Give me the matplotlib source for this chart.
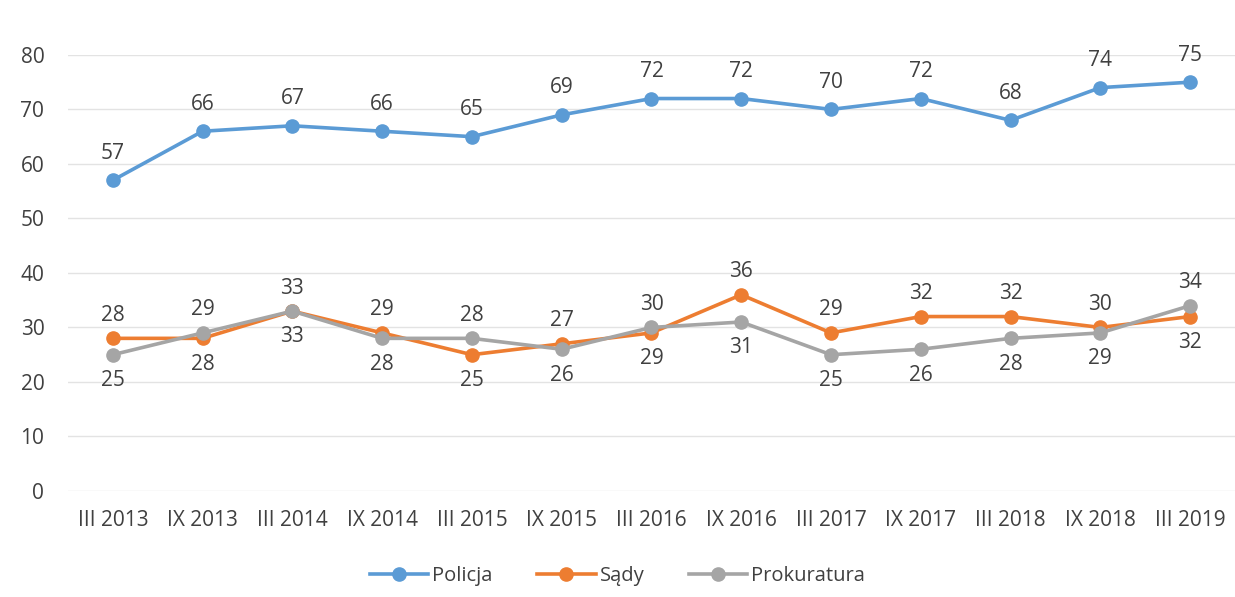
import matplotlib.pyplot as plt

plt.rcParams['font.family'] = ['Open Sans', 'DejaVu Sans']

categories = ['III 2013', 'IX 2013', 'III 2014', 'IX 2014', 'III 2015', 'IX 2015',
              'III 2016', 'IX 2016', 'III 2017', 'IX 2017', 'III 2018', 'IX 2018', 'III 2019']
policja = [57, 66, 67, 66, 65, 69, 72, 72, 70, 72, 68, 74, 75]
sady = [28, 28, 33, 29, 25, 27, 29, 36, 29, 32, 32, 30, 32]
prokuratura = [25, 29, 33, 28, 28, 26, 30, 31, 25, 26, 28, 29, 34]

blue = '#5B9BD5'
orange = '#ED7D31'
gray = '#A5A5A5'
txt = '#404040'

fig = plt.figure(figsize=(12.35, 5.97), dpi=100)
ax = fig.add_axes([0.055, 0.1776, 0.945, 0.7304])

x = list(range(len(categories)))
ax.plot(x, policja, color=blue, lw=2.6, marker='o', ms=9.5, label='Policja', zorder=3)
ax.plot(x, sady, color=orange, lw=2.6, marker='o', ms=9.5, label='Sądy', zorder=3)
ax.plot(x, prokuratura, color=gray, lw=2.6, marker='o', ms=9.5, label='Prokuratura', zorder=4)

fs = 15
for i, v in enumerate(policja):
    ax.annotate(str(v), (i, v), xytext=(0, 12), textcoords='offset points',
                ha='center', va='bottom', fontsize=fs, color=txt)

for i in x:
    s, p = sady[i], prokuratura[i]
    s_up = s >= p
    ax.annotate(str(s), (i, s), xytext=(0, 9 if s_up else -11), textcoords='offset points',
                ha='center', va='bottom' if s_up else 'top', fontsize=fs, color=txt)
    ax.annotate(str(p), (i, p), xytext=(0, -11 if s_up else 9), textcoords='offset points',
                ha='center', va='top' if s_up else 'bottom', fontsize=fs, color=txt)

ax.set_xlim(-0.5, len(categories) - 0.5)
ax.set_ylim(0, 80)
ax.set_yticks(range(0, 81, 10))
ax.set_xticks(x)
ax.set_xticklabels(categories)
ax.tick_params(axis='both', length=0, labelsize=15, labelcolor=txt)
ax.tick_params(axis='x', pad=14)
ax.tick_params(axis='y', pad=17)
ax.grid(axis='y', color='#E3E3E3', lw=1)
ax.set_axisbelow(True)
for sp in ax.spines.values():
    sp.set_visible(False)

fig.legend(loc='lower center', bbox_to_anchor=(0.5, -0.012), ncol=3, frameon=False,
           fontsize=14.5, handlelength=2.9, columnspacing=2.2, handletextpad=0.2,
           labelcolor=txt)

fig.savefig('out.png', dpi=100)
